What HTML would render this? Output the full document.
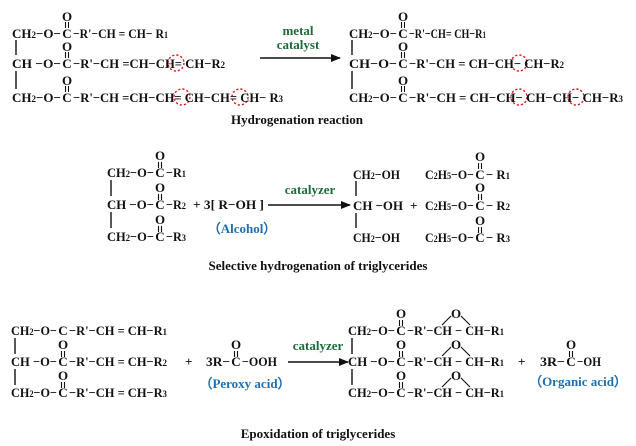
<!DOCTYPE html>
<html><head><meta charset="utf-8"><style>
html,body{margin:0;padding:0;background:#fff;}
svg{display:block;}
text{font-family:"Liberation Serif",serif;font-weight:bold;font-size:13px;fill:#111;}
.g{fill:#1e6b3a;}
.b{fill:#1f6fb0;}
.s{font-size:9px;}
</style></head><body>
<svg width="636" height="446" viewBox="0 0 636 446" xmlns="http://www.w3.org/2000/svg">
<defs><marker id="ah" markerWidth="10" markerHeight="8" refX="9" refY="4" orient="auto" markerUnits="userSpaceOnUse"><path d="M0,0 L10,4 L0,8 z" fill="#111"/></marker></defs>
<g stroke="#111" stroke-width="1.4" fill="none">
<line x1="16" y1="40" x2="16" y2="55"/><line x1="16" y1="71" x2="16" y2="89"/>
<line x1="352" y1="40" x2="352" y2="55"/><line x1="352" y1="71" x2="352" y2="89"/>
<line x1="111" y1="180" x2="111" y2="196"/><line x1="111" y1="212" x2="111" y2="228"/>
<line x1="356" y1="181" x2="356" y2="196"/><line x1="356" y1="213" x2="356" y2="228"/>
<line x1="15" y1="338" x2="15" y2="354"/><line x1="15" y1="369" x2="15" y2="385"/>
<line x1="352" y1="338" x2="352" y2="354"/><line x1="352" y1="369" x2="352" y2="385"/>
<g stroke-width="1.1">
<path d="M65.5,22v6M68.5,22v6M65.5,52v6M68.5,52v6M65.5,86v6M68.5,86v6"/>
<path d="M401.5,22v6M404.5,22v6M401.5,52v6M404.5,52v6M401.5,86v6M404.5,86v6"/>
<path d="M158.5,162v6M161.5,162v6M158.5,194v6M161.5,194v6M158.5,226v6M161.5,226v6"/>
<path d="M478.5,163v6M481.5,163v6M478.5,194v6M481.5,194v6M478.5,227v6M481.5,227v6"/>
<path d="M61.5,351v6M64.5,351v6M61.5,382v6M64.5,382v6"/>
<path d="M234.5,351v6M237.5,351v6"/>
<path d="M399.5,320v6M402.5,320v6M399.5,351v6M402.5,351v6M399.5,382v6M402.5,382v6"/>
<path d="M569.5,351v6M572.5,351v6"/>
<path d="M442,325L451,316M461,316L470,325M442,356L451,347M461,347L470,356M442,387L451,378M461,378L470,387"/>
</g>
<line x1="260" y1="58" x2="340" y2="58" marker-end="url(#ah)"/>
<line x1="268" y1="205" x2="350" y2="205" marker-end="url(#ah)"/>
<line x1="288" y1="362" x2="348" y2="362" marker-end="url(#ah)"/>
<g stroke="#d42020" stroke-dasharray="2.2,2" stroke-width="1.4">
<circle cx="176" cy="63" r="8"/><circle cx="182" cy="97" r="8"/><circle cx="240" cy="97" r="8"/>
<circle cx="519" cy="63" r="8"/><circle cx="519" cy="97" r="8"/><circle cx="576" cy="97" r="8"/>
</g>
</g>
<!-- top left -->
<g>
<text x="67" y="21" text-anchor="middle">O</text><text x="67" y="51" text-anchor="middle">O</text><text x="67" y="85" text-anchor="middle">O</text>
<text x="67" y="38" text-anchor="middle">C</text><text x="67" y="68" text-anchor="middle">C</text><text x="67" y="102" text-anchor="middle">C</text>
<text x="12" y="38" textLength="49" lengthAdjust="spacingAndGlyphs">CH<tspan class="s">2</tspan>−O−</text>
<text x="12" y="68" textLength="49" lengthAdjust="spacingAndGlyphs">CH −O−</text>
<text x="12" y="102" textLength="49" lengthAdjust="spacingAndGlyphs">CH<tspan class="s">2</tspan>−O−</text>
<text x="73" y="38" textLength="95" lengthAdjust="spacingAndGlyphs">−R'−CH = CH− R<tspan class="s">1</tspan></text>
<text x="73" y="68" textLength="152" lengthAdjust="spacingAndGlyphs">−R'−CH =CH−CH= CH−R<tspan class="s">2</tspan></text>
<text x="73" y="102" textLength="210" lengthAdjust="spacingAndGlyphs">−R'−CH =CH−CH= CH−CH= CH− R<tspan class="s">3</tspan></text>
</g>
<text class="g" x="298" y="35" text-anchor="middle">metal</text>
<text class="g" x="298" y="49" text-anchor="middle">catalyst</text>
<!-- top right -->
<g>
<text x="403" y="21" text-anchor="middle">O</text><text x="403" y="51" text-anchor="middle">O</text><text x="403" y="85" text-anchor="middle">O</text>
<text x="403" y="38" text-anchor="middle">C</text><text x="403" y="68" text-anchor="middle">C</text><text x="403" y="102" text-anchor="middle">C</text>
<text x="349" y="38" textLength="48" lengthAdjust="spacingAndGlyphs">CH<tspan class="s">2</tspan>−O−</text>
<text x="349" y="68" textLength="48" lengthAdjust="spacingAndGlyphs">CH−O−</text>
<text x="349" y="102" textLength="48" lengthAdjust="spacingAndGlyphs">CH<tspan class="s">2</tspan>−O−</text>
<text x="409" y="38" textLength="77" lengthAdjust="spacingAndGlyphs">−R'−CH= CH−R<tspan class="s">1</tspan></text>
<text x="409" y="68" textLength="155" lengthAdjust="spacingAndGlyphs">−R'−CH = CH−CH− CH−R<tspan class="s">2</tspan></text>
<text x="409" y="102" textLength="214" lengthAdjust="spacingAndGlyphs">−R'−CH = CH−CH− CH−CH− CH−R<tspan class="s">3</tspan></text>
</g>
<text x="297" y="124" text-anchor="middle">Hydrogenation reaction</text>
<!-- middle -->
<g>
<text x="160" y="160" text-anchor="middle">O</text><text x="160" y="192" text-anchor="middle">O</text><text x="160" y="224" text-anchor="middle">O</text>
<text x="160" y="177" text-anchor="middle">C</text><text x="160" y="209" text-anchor="middle">C</text><text x="160" y="241" text-anchor="middle">C</text>
<text x="107" y="177" textLength="47" lengthAdjust="spacingAndGlyphs">CH<tspan class="s">2</tspan>−O−</text>
<text x="107" y="209" textLength="47" lengthAdjust="spacingAndGlyphs">CH −O−</text>
<text x="107" y="241" textLength="47" lengthAdjust="spacingAndGlyphs">CH<tspan class="s">2</tspan>−O−</text>
<text x="166" y="177" textLength="20" lengthAdjust="spacingAndGlyphs">−R<tspan class="s">1</tspan></text>
<text x="166" y="209" textLength="20" lengthAdjust="spacingAndGlyphs">−R<tspan class="s">2</tspan></text>
<text x="166" y="241" textLength="20" lengthAdjust="spacingAndGlyphs">−R<tspan class="s">3</tspan></text>
</g>
<text x="193" y="209" textLength="71" lengthAdjust="spacingAndGlyphs">+ 3[ R−OH ]</text>
<text class="b" x="242" y="233" text-anchor="middle">（Alcohol）</text>
<text class="g" x="310" y="194" text-anchor="middle">catalyzer</text>
<text x="353" y="179" textLength="47" lengthAdjust="spacingAndGlyphs">CH<tspan class="s">2</tspan>−OH</text>
<text x="353" y="210" textLength="50" lengthAdjust="spacingAndGlyphs">CH −OH</text>
<text x="353" y="242" textLength="47" lengthAdjust="spacingAndGlyphs">CH<tspan class="s">2</tspan>−OH</text>
<text x="410" y="210">+</text>
<g>
<text x="480" y="161" text-anchor="middle">O</text><text x="480" y="192" text-anchor="middle">O</text><text x="480" y="225" text-anchor="middle">O</text>
<text x="480" y="179" text-anchor="middle">C</text><text x="480" y="210" text-anchor="middle">C</text><text x="480" y="242" text-anchor="middle">C</text>
<text x="425" y="179" textLength="49" lengthAdjust="spacingAndGlyphs">C<tspan class="s">2</tspan>H<tspan class="s">5</tspan>−O−</text>
<text x="425" y="210" textLength="49" lengthAdjust="spacingAndGlyphs">C<tspan class="s">2</tspan>H<tspan class="s">5</tspan>−O−</text>
<text x="425" y="242" textLength="49" lengthAdjust="spacingAndGlyphs">C<tspan class="s">2</tspan>H<tspan class="s">5</tspan>−O−</text>
<text x="486" y="179" textLength="24" lengthAdjust="spacingAndGlyphs">− R<tspan class="s">1</tspan></text>
<text x="486" y="210" textLength="24" lengthAdjust="spacingAndGlyphs">− R<tspan class="s">2</tspan></text>
<text x="486" y="242" textLength="24" lengthAdjust="spacingAndGlyphs">− R<tspan class="s">3</tspan></text>
</g>
<text x="318" y="270" text-anchor="middle">Selective hydrogenation of triglycerides</text>
<!-- bottom left -->
<g>
<text x="63" y="349" text-anchor="middle">O</text><text x="63" y="380" text-anchor="middle">O</text>
<text x="63" y="335" text-anchor="middle">C</text><text x="63" y="366" text-anchor="middle">C</text><text x="63" y="397" text-anchor="middle">C</text>
<text x="11" y="335" textLength="46" lengthAdjust="spacingAndGlyphs">CH<tspan class="s">2</tspan>−O−</text>
<text x="11" y="366" textLength="46" lengthAdjust="spacingAndGlyphs">CH −O−</text>
<text x="11" y="397" textLength="46" lengthAdjust="spacingAndGlyphs">CH<tspan class="s">2</tspan>−O−</text>
<text x="69" y="335" textLength="98" lengthAdjust="spacingAndGlyphs">−R'−CH = CH−R<tspan class="s">1</tspan></text>
<text x="69" y="366" textLength="98" lengthAdjust="spacingAndGlyphs">−R'−CH = CH−R<tspan class="s">2</tspan></text>
<text x="69" y="397" textLength="98" lengthAdjust="spacingAndGlyphs">−R'−CH = CH−R<tspan class="s">3</tspan></text>
</g>
<text x="185" y="366">+</text>
<text x="236" y="349" text-anchor="middle">O</text>
<text x="236" y="366" text-anchor="middle">C</text>
<text x="206" y="366" textLength="24" lengthAdjust="spacingAndGlyphs">3R−</text>
<text x="242" y="366" textLength="35" lengthAdjust="spacingAndGlyphs">−OOH</text>
<text class="b" x="245" y="388" text-anchor="middle">（Peroxy acid）</text>
<text class="g" x="318" y="350" text-anchor="middle">catalyzer</text>
<!-- bottom right -->
<g>
<text x="401" y="318" text-anchor="middle">O</text><text x="401" y="349" text-anchor="middle">O</text><text x="401" y="380" text-anchor="middle">O</text>
<text x="456" y="318" text-anchor="middle">O</text><text x="456" y="349" text-anchor="middle">O</text><text x="456" y="380" text-anchor="middle">O</text>
<text x="401" y="335" text-anchor="middle">C</text><text x="401" y="366" text-anchor="middle">C</text><text x="401" y="397" text-anchor="middle">C</text>
<text x="348" y="335" textLength="47" lengthAdjust="spacingAndGlyphs">CH<tspan class="s">2</tspan>−O−</text>
<text x="348" y="366" textLength="47" lengthAdjust="spacingAndGlyphs">CH −O−</text>
<text x="348" y="397" textLength="47" lengthAdjust="spacingAndGlyphs">CH<tspan class="s">2</tspan>−O−</text>
<text x="407" y="335" textLength="97" lengthAdjust="spacingAndGlyphs">−R'−CH − CH−R<tspan class="s">1</tspan></text>
<text x="407" y="366" textLength="97" lengthAdjust="spacingAndGlyphs">−R'−CH − CH−R<tspan class="s">1</tspan></text>
<text x="407" y="397" textLength="97" lengthAdjust="spacingAndGlyphs">−R'−CH − CH−R<tspan class="s">1</tspan></text>
</g>
<text x="518" y="366">+</text>
<text x="571" y="349" text-anchor="middle">O</text>
<text x="571" y="366" text-anchor="middle">C</text>
<text x="540" y="366" textLength="25" lengthAdjust="spacingAndGlyphs">3R−</text>
<text x="577" y="366" textLength="24" lengthAdjust="spacingAndGlyphs">−OH</text>
<text class="b" x="578" y="386" text-anchor="middle">（Organic acid）</text>
<text x="318" y="438" text-anchor="middle">Epoxidation of triglycerides</text>
</svg>
</body></html>
